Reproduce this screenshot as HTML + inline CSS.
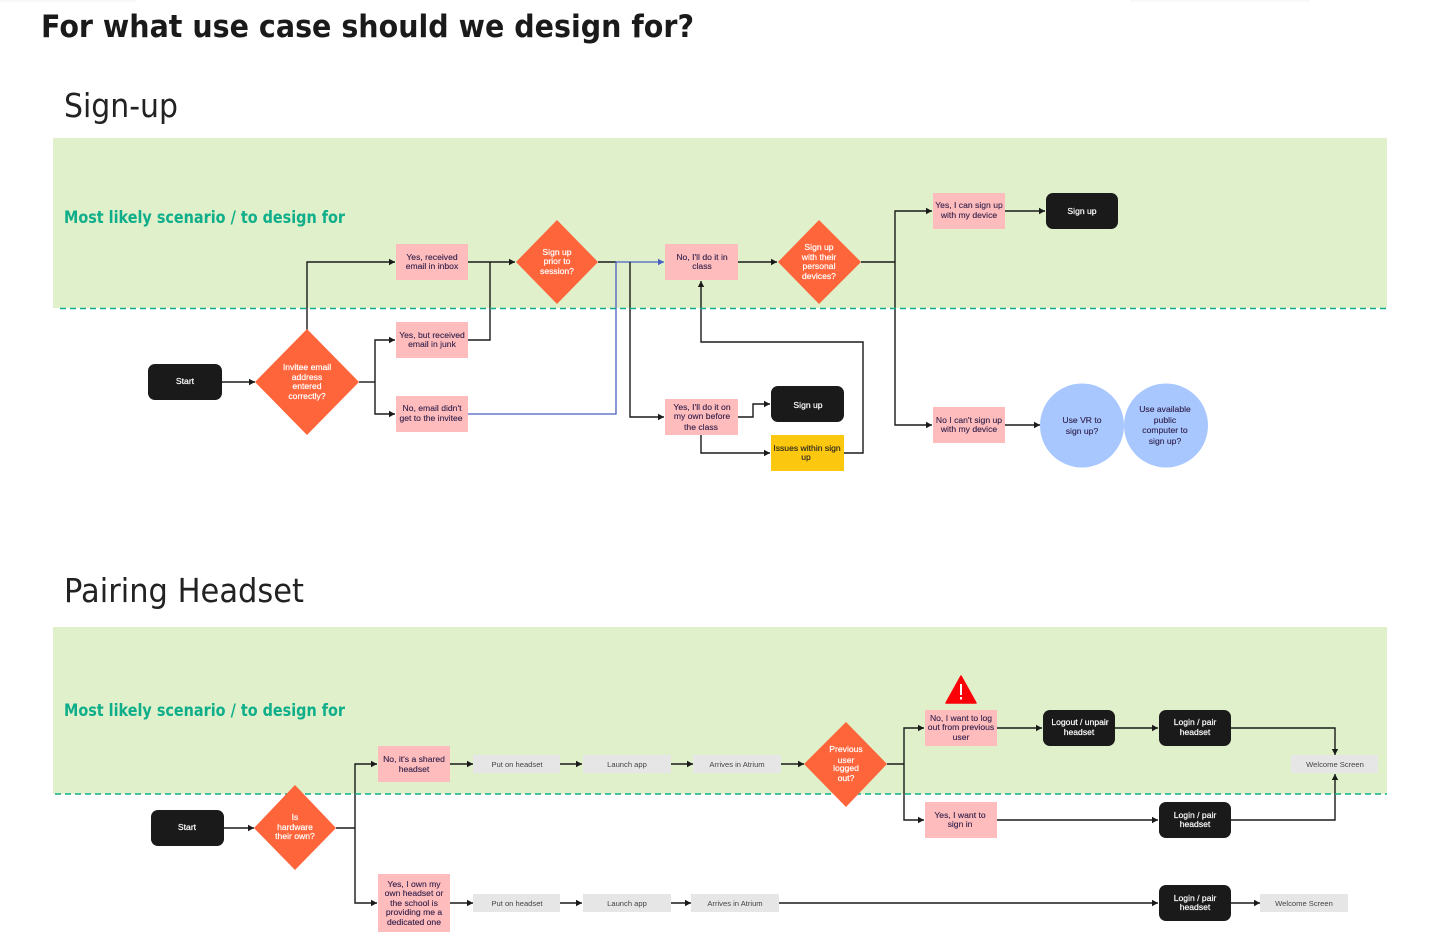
<!DOCTYPE html>
<html><head><meta charset="utf-8"><style>
html,body{margin:0;padding:0;background:#fff;width:1453px;height:936px;overflow:hidden}
svg{display:block;font-family:"Liberation Sans",sans-serif}
.l{fill:none;stroke:#1a1a1a;stroke-width:1.4}
.a{marker-end:url(#ar)}
.b{fill:none;stroke:#4a5fc4;stroke-width:1.3}
.p{fill:#ffbcbc}.k{fill:#1a1a1a}.d{fill:#ff653b}.g{fill:#e6e6e6}.c{fill:#a8c7ff}
text{font-size:8.6px;text-anchor:middle}
.tp{fill:#2f1f4a;stroke:#2f1f4a;stroke-width:.12}.tw{fill:#fff;stroke:#fff;stroke-width:.2}.tg{fill:#444;font-size:7.6px}.ty{fill:#222;stroke:#222;stroke-width:.12}
.h{text-anchor:start;font-family:"DejaVu Sans",sans-serif}
</style></head><body>
<svg width="1453" height="936" viewBox="0 0 1453 936" xmlns="http://www.w3.org/2000/svg">
<defs>
<marker id="ar" markerUnits="userSpaceOnUse" markerWidth="8" markerHeight="8" refX="6" refY="3.5" orient="auto"><path d="M0 0.3L6 3.5L0 6.7z" fill="#1a1a1a"/></marker>
<marker id="ab" markerUnits="userSpaceOnUse" markerWidth="8" markerHeight="8" refX="6" refY="3.5" orient="auto"><path d="M0 0.3L6 3.5L0 6.7z" fill="#4a5fc4"/></marker>
</defs>
<rect x="0" y="0" width="136" height="2" fill="#f7f7f7"/>
<rect x="1130" y="0" width="180" height="2" fill="#f9f9f9"/>
<rect x="53" y="138" width="1334" height="170" fill="#dff0ca"/>
<rect x="53" y="627" width="1334" height="167" fill="#dff0ca"/>

<text class="h" x="41" y="37" textLength="653" lengthAdjust="spacingAndGlyphs" style="font-size:31px;font-weight:700;fill:#1a1a1a">For what use case should we design for?</text>
<text class="h" x="64" y="117" textLength="114" lengthAdjust="spacingAndGlyphs" style="font-size:33px;fill:#222">Sign-up</text>
<text class="h" x="64" y="602" textLength="240" lengthAdjust="spacingAndGlyphs" style="font-size:33px;fill:#222">Pairing Headset</text>
<text class="h" x="64" y="223" textLength="281" lengthAdjust="spacingAndGlyphs" style="font-size:16.500px;font-weight:700;fill:#0fae8a">Most likely scenario / to design for</text>
<text class="h" x="64" y="716" textLength="281" lengthAdjust="spacingAndGlyphs" style="font-size:16.500px;font-weight:700;fill:#0fae8a">Most likely scenario / to design for</text>

<!-- connectors sign-up -->
<path class="l a" d="M222 382H255"/>
<path class="l a" d="M307 330V262H395"/>
<path class="l" d="M359 382H375"/>
<path class="l a" d="M375 382V340H395"/>
<path class="l a" d="M375 382V414H395"/>
<path class="l a" d="M468 262H515"/>
<path class="l" d="M468 340H490V262"/>
<path class="l" d="M598 262H616"/>
<path class="b" style="marker-end:url(#ab)" d="M468 414H616V262H664"/>
<path class="l a" d="M630 262V417H664"/>
<path class="l a" d="M738 262H777"/>
<path class="l" d="M861 262H895"/>
<path class="l a" d="M895 262V211H932"/>
<path class="l a" d="M895 262V425H932"/>
<path class="l a" d="M1005 211H1045"/>
<path class="l a" d="M1005 425H1040"/>
<path class="l a" d="M738 417H753V404H770"/>
<path class="l a" d="M701 435V453H770"/>
<path class="l a" d="M844 453H863V342H701V281"/>

<!-- connectors pairing -->
<path class="l a" d="M224 828H254"/>
<path class="l" d="M336 828H355"/>
<path class="l a" d="M355 828V764H377"/>
<path class="l a" d="M355 828V903H377"/>
<path class="l a" d="M450 764H473"/>
<path class="l a" d="M560 764H582"/>
<path class="l a" d="M671 764H693"/>
<path class="l a" d="M781 764H804"/>
<path class="l" d="M887 764H904"/>
<path class="l a" d="M904 764V728H924"/>
<path class="l a" d="M904 764V820H924"/>
<path class="l a" d="M997 728H1042"/>
<path class="l a" d="M1115 728H1158"/>
<path class="l a" d="M1231 728H1335V755"/>
<path class="l a" d="M997 820H1158"/>
<path class="l a" d="M1231 820H1335V774"/>
<path class="l a" d="M450 903H473"/>
<path class="l a" d="M560 903H582"/>
<path class="l a" d="M671 903H691"/>
<path class="l a" d="M779 903H1158"/>
<path class="l a" d="M1231 903H1260"/>

<!-- dashed -->
<path d="M60 308.500H1387" stroke="#0fae8a" stroke-width="1.4" stroke-dasharray="6 4" fill="none"/>
<path d="M55 794H1387" stroke="#0fae8a" stroke-width="1.4" stroke-dasharray="6 4" fill="none"/>

<!-- sign-up nodes -->
<rect class="k" x="148" y="364" width="74" height="36" rx="7"/>
<text class="tw" x="185" y="384">Start</text>
<polygon class="d" points="307,329 359,382 307,435 255,382"/>
<text class="tw" x="307" y="370">Invitee email</text><text class="tw" x="307" y="380">address</text><text class="tw" x="307" y="389">entered</text><text class="tw" x="307" y="399">correctly?</text>
<rect class="p" x="396" y="244" width="72" height="36"/>
<text class="tp" x="432" y="260">Yes, received</text><text class="tp" x="432" y="269">email in inbox</text>
<rect class="p" x="396" y="322" width="72" height="36"/>
<text class="tp" x="432" y="338">Yes, but received</text><text class="tp" x="432" y="347">email in junk</text>
<rect class="p" x="396" y="396" width="72" height="36"/>
<text class="tp" x="432" y="411">No, email didn't</text><text class="tp" x="431" y="421">get to the invitee</text>
<polygon class="d" points="557,220 598,262 557,304 516,262"/>
<text class="tw" x="557" y="255">Sign up</text><text class="tw" x="557" y="264">prior to</text><text class="tw" x="557" y="274">session?</text>
<rect class="p" x="665" y="244" width="73" height="36"/>
<text class="tp" x="702" y="260">No, I'll do it in</text><text class="tp" x="702" y="269">class</text>
<polygon class="d" points="819,220 861,262 819,304 778,262"/>
<text class="tw" x="819" y="250">Sign up</text><text class="tw" x="819" y="260">with their</text><text class="tw" x="819" y="269">personal</text><text class="tw" x="819" y="279">devices?</text>
<rect class="p" x="933" y="193" width="72" height="36"/>
<text class="tp" x="969" y="208">Yes, I can sign up</text><text class="tp" x="969" y="218">with my device</text>
<rect class="k" x="1046" y="193" width="72" height="36" rx="7"/>
<text class="tw" x="1082" y="214">Sign up</text>
<rect class="p" x="933" y="407" width="72" height="36"/>
<text class="tp" x="969" y="423">No I can't sign up</text><text class="tp" x="969" y="432">with my device</text>
<ellipse class="c" cx="1082" cy="425.500" rx="42" ry="42"/>
<text class="tp" x="1082" y="423">Use VR to</text><text class="tp" x="1082" y="434">sign up?</text>
<ellipse class="c" cx="1166" cy="425.500" rx="42" ry="42"/>
<text class="tp" x="1165" y="412">Use available</text><text class="tp" x="1165" y="423">public</text><text class="tp" x="1165" y="433">computer to</text><text class="tp" x="1165" y="444">sign up?</text>
<rect class="p" x="665" y="399" width="73" height="36"/>
<text class="tp" x="702" y="410">Yes, I'll do it on</text><text class="tp" x="702" y="419">my own before</text><text class="tp" x="701" y="430">the class</text>
<rect class="k" x="771" y="386" width="73" height="36" rx="7"/>
<text class="tw" x="808" y="408">Sign up</text>
<rect x="771" y="435" width="73" height="36" fill="#fcc70f"/>
<text class="ty" x="807" y="451">Issues within sign</text><text class="ty" x="806" y="460">up</text>

<!-- pairing nodes -->
<rect class="k" x="151" y="810" width="73" height="36" rx="7"/>
<text class="tw" x="187" y="830">Start</text>
<polygon class="d" points="295,785 336,828 295,870 254,828"/>
<text class="tw" x="295" y="820">Is</text><text class="tw" x="295" y="830">hardware</text><text class="tw" x="295" y="839">their own?</text>
<rect class="p" x="378" y="746" width="72" height="36"/>
<text class="tp" x="414" y="762">No, it's a shared</text><text class="tp" x="414" y="772">headset</text>
<rect class="p" x="378" y="874" width="72" height="58"/>
<text class="tp" x="414" y="887">Yes, I own my</text><text class="tp" x="414" y="896">own headset or</text><text class="tp" x="414" y="906">the school is</text><text class="tp" x="414" y="915">providing me a</text><text class="tp" x="414" y="925">dedicated one</text>
<rect class="g" x="473" y="755" width="87" height="18"/><text class="tg" x="517" y="767">Put on headset</text>
<rect class="g" x="583" y="755" width="88" height="18"/><text class="tg" x="627" y="767">Launch app</text>
<rect class="g" x="693" y="755" width="88" height="18"/><text class="tg" x="737" y="767">Arrives in Atrium</text>
<polygon class="d" points="846,722 887,764 846,807 804,764"/>
<text class="tw" x="846" y="752">Previous</text><text class="tw" x="846" y="763">user</text><text class="tw" x="846" y="771">logged</text><text class="tw" x="846" y="781">out?</text>
<polygon points="961,676 976,703 946,703" fill="#fb0007" stroke="#fb0007" stroke-width="1.500" stroke-linejoin="round"/>
<rect x="960" y="684" width="2" height="11" fill="#fff"/><rect x="960" y="697" width="2" height="2.500" fill="#fff"/>
<rect class="p" x="925" y="710" width="72" height="36"/>
<text class="tp" x="961" y="721">No, I want to log</text><text class="tp" x="961" y="730">out from previous</text><text class="tp" x="961" y="740">user</text>
<rect class="p" x="925" y="802" width="72" height="36"/>
<text class="tp" x="960" y="818">Yes, I want to</text><text class="tp" x="960" y="827">sign in</text>
<rect class="k" x="1043" y="710" width="72" height="36" rx="7"/>
<text class="tw" x="1080" y="725">Logout / unpair</text><text class="tw" x="1079" y="735">headset</text>
<rect class="k" x="1159" y="710" width="72" height="36" rx="7"/>
<text class="tw" x="1195" y="725">Login / pair</text><text class="tw" x="1195" y="735">headset</text>
<rect class="k" x="1159" y="802" width="72" height="36" rx="7"/>
<text class="tw" x="1195" y="818">Login / pair</text><text class="tw" x="1195" y="827">headset</text>
<rect class="k" x="1159" y="885" width="72" height="36" rx="7"/>
<text class="tw" x="1195" y="901">Login / pair</text><text class="tw" x="1195" y="910">headset</text>
<rect class="g" x="1291" y="755" width="87" height="18"/><text class="tg" x="1335" y="767">Welcome Screen</text>
<rect class="g" x="473" y="894" width="87" height="18"/><text class="tg" x="517" y="906">Put on headset</text>
<rect class="g" x="583" y="894" width="88" height="18"/><text class="tg" x="627" y="906">Launch app</text>
<rect class="g" x="691" y="894" width="88" height="18"/><text class="tg" x="735" y="906">Arrives in Atrium</text>
<rect class="g" x="1260" y="894" width="88" height="18"/><text class="tg" x="1304" y="906">Welcome Screen</text>
</svg>
</body></html>
